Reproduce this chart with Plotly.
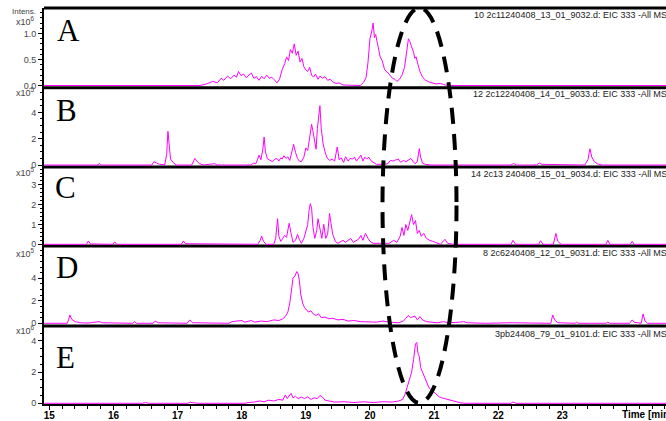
import plotly.graph_objects as go

# ---------------- data (retention time in min, intensity in panel scale units) ----------------
# Panel A: intensity x10^6
A_time = [14.92, 17.35, 17.45, 17.55, 17.62, 17.68, 17.72, 17.78, 17.83, 17.88, 17.92, 17.95, 17.99,
          18.03, 18.07, 18.11, 18.15, 18.19, 18.23, 18.27, 18.31, 18.35, 18.39, 18.43, 18.47, 18.51,
          18.55, 18.59, 18.63, 18.67, 18.70, 18.73, 18.76, 18.79, 18.82, 18.85, 18.88, 18.91, 18.94,
          18.97, 19.00, 19.03, 19.06, 19.09, 19.12, 19.15, 19.19, 19.22, 19.26, 19.30, 19.34, 19.38,
          19.42, 19.47, 19.52, 19.58, 19.85, 19.90, 19.94, 19.97, 20.00, 20.03, 20.05, 20.07, 20.09,
          20.11, 20.13, 20.16, 20.19, 20.23, 20.27, 20.31, 20.35, 20.39, 20.42, 20.46, 20.50, 20.54,
          20.57, 20.60, 20.62, 20.65, 20.68, 20.70, 20.72, 20.75, 20.78, 20.82, 20.87, 20.92, 20.97,
          21.03, 21.10, 21.16, 21.20, 24.62]
A_int = [0, 0, 0.03, 0.08, 0.05, 0.14, 0.10, 0.18, 0.13, 0.20, 0.16, 0.27, 0.19,
         0.22, 0.15, 0.19, 0.24, 0.14, 0.17, 0.10, 0.18, 0.13, 0.20, 0.14, 0.16, 0.11,
         0.05, 0.12, 0.30, 0.42, 0.55, 0.48, 0.69, 0.62, 0.80, 0.58, 0.66, 0.45, 0.52,
         0.36, 0.30, 0.27, 0.35, 0.20, 0.16, 0.22, 0.12, 0.18, 0.14, 0.17, 0.10, 0.12,
         0.07, 0.04, 0.05, 0.01, 0, 0.06, 0.15, 0.45, 0.90, 1.05, 1.20, 0.92, 0.98,
         0.85, 0.72, 0.55, 0.48, 0.30, 0.26, 0.20, 0.14, 0.12, 0.08, 0.12, 0.20, 0.35,
         0.58, 0.90, 0.85, 0.76, 0.64, 0.52, 0.55, 0.40, 0.27, 0.16, 0.10, 0.07, 0.05,
         0.03, 0.04, 0.01, 0, 0]

# Panel B: intensity x10^5
B_time = [14.92, 15.76, 15.78, 15.80, 16.60, 16.63, 16.67, 16.72, 16.80, 16.83, 16.85, 16.87, 16.89,
          16.93, 16.98, 17.22, 17.25, 17.27, 17.30, 17.34, 17.40, 17.55, 17.58, 17.62, 18.15, 18.18,
          18.22, 18.25, 18.27, 18.30, 18.33, 18.35, 18.37, 18.40, 18.44, 18.48, 18.52, 18.55, 18.58,
          18.61, 18.63, 18.66, 18.69, 18.72, 18.75, 18.78, 18.81, 18.84, 18.87, 18.90, 18.93, 18.97,
          19.00, 19.03, 19.06, 19.09, 19.11, 19.13, 19.16, 19.18, 19.20, 19.22, 19.24, 19.27, 19.30,
          19.33, 19.37, 19.41, 19.45, 19.49, 19.52, 19.55, 19.59, 19.62, 19.66, 19.69, 19.73, 19.76,
          19.79, 19.82, 19.86, 19.89, 19.92, 19.95, 19.98, 20.02, 20.06, 20.10, 20.20, 20.28, 20.32,
          20.36, 20.40, 20.44, 20.48, 20.52, 20.56, 20.60, 20.64, 20.68, 20.71, 20.74, 20.77, 20.79,
          20.82, 20.86, 20.95, 22.20, 22.24, 22.28, 22.60, 22.64, 22.68, 23.35, 23.40, 23.43, 23.46,
          23.50, 23.55, 23.62, 24.62]
B_int = [0, 0, 0.12, 0, 0, 0.25, 0.15, 0.05, 0.02, 0.8, 2.56, 1.2, 0.45,
         0.2, 0, 0, 0.35, 0.5, 0.3, 0.1, 0, 0.05, 0.1, 0, 0, 0.15,
         0.1, 0.45, 0.75, 0.4, 1.2, 2.13, 1.0, 0.48, 0.35, 0.25, 0.45, 0.5, 0.3,
         0.55, 0.45, 0.7, 0.5, 0.62, 0.35, 0.9, 1.57, 0.95, 0.5, 0.3, 0.25, 0.6,
         1.3, 1.1, 2.2, 3.09, 2.6, 1.9, 1.2, 2.76, 3.6, 4.51, 2.8, 1.6, 1.0,
         0.55, 0.35, 0.45, 0.3, 1.37, 0.4, 0.55, 0.2, 0.63, 0.3, 0.5, 0.45, 0.6,
         0.3, 0.5, 0.75, 0.3, 0.6, 0.45, 0.6, 0.3, 0.15, 0.05, 0.05, 0.1, 0.35,
         0.3, 0.38, 0.45, 0.2, 0.35, 0.25, 0.35, 0.5, 0.2, 0.1, 0.3, 1.24, 0.6,
         0.15, 0.05, 0, 0, 0.12, 0, 0, 0.15, 0.05, 0, 0.4, 1.24, 0.6,
         0.25, 0.08, 0, 0]

# Panel C: intensity x10^5
C_time = [14.92, 15.58, 15.61, 15.64, 15.99, 16.02, 16.05, 17.06, 17.09, 17.12, 18.25, 18.29, 18.31,
          18.34, 18.38, 18.50, 18.53, 18.56, 18.58, 18.61, 18.64, 18.67, 18.70, 18.74, 18.77, 18.80,
          18.84, 18.87, 18.90, 18.93, 18.97, 19.00, 19.03, 19.05, 19.07, 19.09, 19.11, 19.14, 19.17,
          19.19, 19.22, 19.25, 19.28, 19.31, 19.34, 19.37, 19.39, 19.42, 19.46, 19.50, 19.58, 19.62,
          19.70, 19.74, 19.82, 19.86, 19.89, 19.93, 19.97, 20.00, 20.05, 20.30, 20.37, 20.42, 20.47,
          20.50, 20.53, 20.56, 20.59, 20.62, 20.65, 20.68, 20.71, 20.74, 20.77, 20.80, 20.84, 20.88,
          20.93, 20.98, 21.05, 21.10, 21.17, 21.21, 21.30, 22.20, 22.23, 22.27, 22.63, 22.66, 22.70,
          22.86, 22.90, 22.93, 22.98, 23.68, 23.71, 23.74, 24.06, 24.09, 24.12, 24.62]
C_int = [0, 0, 0.17, 0.02, 0, 0.12, 0, 0, 0.17, 0.03, 0, 0.2, 0.42,
         0.15, 0, 0, 0.3, 1.29, 0.4, 0.15, 0.3, 0.45, 0.35, 1.06, 0.55, 0.1,
         0.2, 0.5, 0.25, 0.05, 0.3, 0.67, 1.0, 1.7, 2.05, 1.85, 0.9, 0.3, 0.7,
         1.29, 0.8, 0.3, 1.01, 0.3, 0.5, 1.56, 1.1, 0.5, 0.15, 0.05, 0.2, 0.1,
         0.3, 0.1, 0.25, 0.45, 0.2, 0.55, 0.3, 0.15, 0.05, 0.05, 0.2, 0.1, 0.4,
         0.85, 0.45, 1.0, 0.7, 1.1, 1.5, 1.0, 1.2, 0.55, 0.7, 0.4, 0.55, 0.3,
         0.2, 0.15, 0.05, 0, 0.25, 0.05, 0, 0, 0.2, 0, 0, 0.18, 0,
         0, 0.55, 0.15, 0, 0, 0.2, 0, 0, 0.15, 0, 0]

# Panel D: intensity x10^5
D_time = [14.92, 15.28, 15.30, 15.32, 15.35, 15.40, 15.48, 15.60, 15.78, 15.83, 16.30, 16.33, 16.36,
          16.62, 16.65, 16.70, 17.15, 17.19, 17.23, 17.80, 17.85, 18.00, 18.05, 18.15, 18.20, 18.30,
          18.40, 18.50, 18.58, 18.64, 18.68, 18.72, 18.75, 18.78, 18.80, 18.83, 18.86, 18.88, 18.90,
          18.92, 18.95, 18.98, 19.01, 19.04, 19.08, 19.12, 19.16, 19.20, 19.24, 19.30, 19.36, 19.42,
          19.50, 19.58, 19.66, 19.75, 19.85, 19.95, 20.10, 20.20, 20.30, 20.45, 20.52, 20.56, 20.60,
          20.63, 20.67, 20.70, 20.74, 20.78, 20.82, 20.88, 20.95, 21.05, 21.15, 21.22, 21.40, 21.46,
          21.52, 21.80, 22.20, 22.82, 22.85, 22.88, 22.93, 23.20, 23.22, 23.25, 23.68, 23.71, 23.74,
          24.05, 24.09, 24.12, 24.23, 24.26, 24.29, 24.33, 24.62]
D_int = [0, 0, 0.3, 0.74, 0.35, 0.15, 0.05, 0.02, 0.15, 0.05, 0, 0.15, 0,
         0, 0.2, 0.05, 0, 0.3, 0.05, 0, 0.15, 0.25, 0.1, 0.25, 0.1, 0.2,
         0.15, 0.3, 0.25, 0.4, 0.6, 1.0, 1.8, 3.0, 4.0, 4.2, 4.6, 4.4, 3.8,
         2.6, 1.8, 1.4, 1.2, 1.0, 1.1, 0.8, 0.7, 0.85, 0.5, 0.55, 0.4, 0.45,
         0.3, 0.35, 0.2, 0.25, 0.15, 0.15, 0.1, 0.2, 0.1, 0.05, 0.2, 0.45, 0.7,
         0.5, 0.55, 0.65, 0.3, 0.6, 0.3, 0.15, 0.1, 0.05, 0.15, 0.05, 0.1, 0.15,
         0.05, 0, 0.05, 0, 0.74, 0.3, 0.05, 0, 0.1, 0, 0, 0.1, 0,
         0, 0.3, 0.1, 0, 0.83, 0.2, 0, 0]

# Panel E: intensity x10^6
E_time = [14.92, 16.45, 16.50, 16.55, 17.15, 17.20, 17.26, 17.32, 18.05, 18.10, 18.20, 18.28, 18.35,
          18.42, 18.50, 18.58, 18.64, 18.68, 18.71, 18.74, 18.77, 18.80, 18.84, 18.88, 18.93, 18.98,
          19.03, 19.08, 19.13, 19.18, 19.22, 19.26, 19.30, 19.36, 19.45, 19.60, 19.75, 19.90, 20.05,
          20.20, 20.35, 20.45, 20.51, 20.55, 20.59, 20.62, 20.65, 20.68, 20.71, 20.73, 20.75, 20.77,
          20.79, 20.82, 20.85, 20.89, 20.92, 20.96, 21.00, 21.04, 21.08, 21.12, 21.16, 21.22, 21.28,
          21.34, 21.42, 21.50, 22.20, 22.23, 22.28, 24.62]
E_int = [0, 0, 0.05, 0, 0, 0.06, 0.03, 0, 0, 0.05, 0.08, 0.15, 0.1,
         0.2, 0.15, 0.25, 0.2, 0.53, 0.3, 0.45, 0.64, 0.35, 0.45, 0.3, 0.4, 0.3,
         0.42, 0.25, 0.35, 0.3, 0.5, 0.4, 0.2, 0.15, 0.08, 0.1, 0.05, 0.1, 0.05,
         0.1, 0.08, 0.15, 0.25, 0.6, 1.1, 1.6, 2.0, 2.8, 3.8, 3.9, 3.2, 3.0,
         2.3, 2.0, 1.7, 1.2, 1.0, 0.85, 0.7, 0.55, 0.42, 0.35, 0.3, 0.25, 0.15,
         0.1, 0.02, 0, 0, 0.08, 0, 0]

panel_letters = ["A", "B", "C", "D", "E"]
sample_names = [
    "10 2c11240408_13_01_9032.d: EIC 333 -All MS",
    "12 2c12240408_14_01_9033.d: EIC 333 -All MS",
    "14 2c13 240408_15_01_9034.d: EIC 333 -All MS",
    "8 2c6240408_12_01_9031.d: EIC 333 -All MS",
    "3pb24408_79_01_9101.d: EIC 333 -All MS",
]
exponents = [6, 5, 5, 5, 6]
ytick_vals = [[0, 0.5, 1.0], [0, 2, 4], [0, 1, 2, 3], [0, 2, 4], [0, 2, 4]]
ytick_text = [["0.0", "0.5", "1.0"], ["0", "2", "4"], ["0", "1", "2", "3"], ["0", "2", "4"], ["0", "2", "4"]]
x_ticks = [15, 16, 17, 18, 19, 20, 21, 22, 23, 24]
x_ticktext = ["15", "16", "17", "18", "19", "20", "21", "22", "23", " "]

# ---------------- layout geometry ----------------
W, H = 666, 421
ML, MT, MB = 44, 8, 17
PW, PH = W - ML, H - MT - MB
PLOT_BOTTOM = H - MB


def px_x(px):
    return (px - ML) / PW


def px_y(py):
    return (PLOT_BOTTOM - py) / PH


bounds = [8, 87.7, 167, 246, 326, 404]   # pixel rows of panel borders
y_ranges = [[-0.042, 1.49], [-0.152, 5.878], [-0.086, 3.904], [-0.24, 6.87], [-0.045, 4.955]]
minor_dt = [0.1, 0.5, 0.2, 0.5, 0.5]
letter_cy = [30, 110.5, 187.5, 267, 357]
letter_cx = [68.5, 66.5, 65, 67, 65]
name_cy = [14.5, 94, 174, 253, 333.5]
exp_cy = [21, 92, 172, 252.7, 330]

times = [A_time, B_time, C_time, D_time, E_time]
ints = [A_int, B_int, C_int, D_int, E_int]

fig = go.Figure()
yaxes = ["y", "y2", "y3", "y4", "y5"]
for i in range(5):
    fig.add_trace(go.Scatter(x=times[i], y=ints[i], mode="lines",
                             line=dict(color="#ff00ff", width=1),
                             xaxis="x", yaxis=yaxes[i], showlegend=False, hoverinfo="skip"))

FONT = "Liberation Sans, Arial, sans-serif"
layout = dict(
    width=W, height=H,
    margin=dict(l=ML, r=0, t=MT, b=MB, autoexpand=False),
    paper_bgcolor="white", plot_bgcolor="rgba(0,0,0,0)",
    showlegend=False,
    xaxis=dict(domain=[0, 1], range=[14.917, 24.617], anchor="y5",
               showline=True, linewidth=2, linecolor="black", layer="below traces",
               ticks="outside", ticklen=4, tickwidth=1, tickcolor="black",
               tickmode="array", tickvals=x_ticks, ticktext=x_ticktext,
               ticklabelstandoff=-3,
               tickfont=dict(family=FONT, size=10, color="black", weight="bold"),
               minor=dict(tickmode="linear", tick0=0, dtick=0.2, ticklen=3, ticks="outside",
                          tickcolor="black", showgrid=False),
               showgrid=False, zeroline=False),
)
for i in range(5):
    key = "yaxis" if i == 0 else "yaxis%d" % (i + 1)
    layout[key] = dict(
        domain=[px_y(bounds[i + 1]), px_y(bounds[i])], range=y_ranges[i], anchor="x",
        showline=True, linewidth=2, linecolor="black",
        ticks="outside", ticklen=4, tickwidth=1, tickcolor="black",
        tickmode="array", tickvals=ytick_vals[i], ticktext=ytick_text[i],
        tickfont=dict(family=FONT, size=9, color="#444"),
        minor=dict(tickmode="linear", tick0=0, dtick=minor_dt[i], ticklen=2, ticks="outside",
                   tickcolor="black", showgrid=False),
        showgrid=False, zeroline=False,
    )
fig.update_layout(**layout)

shapes = []
for b in bounds[:5]:
    shapes.append(dict(type="line", xref="paper", yref="paper", x0=0, x1=1,
                       y0=px_y(b), y1=px_y(b), line=dict(color="black", width=3), layer="below"))
# dashed ellipse around region of interest
shapes.append(dict(type="circle", xref="x", yref="paper", x0=20.196, x1=21.35,
                   y0=px_y(403), y1=px_y(8), line=dict(color="black", width=4, dash="16px,10px"),
                   layer="above"))
fig.update_layout(shapes=shapes)

ann = []
for i in range(5):
    ann.append(dict(xref="paper", yref="paper", x=px_x(letter_cx[i]), y=px_y(letter_cy[i]),
                    text=panel_letters[i], showarrow=False, xanchor="center", yanchor="middle",
                    font=dict(family="Liberation Serif, Times New Roman, serif", size=31, color="black")))
    ann.append(dict(xref="paper", yref="paper", x=px_x(669), y=px_y(name_cy[i]),
                    text=sample_names[i], showarrow=False, xanchor="right", yanchor="middle",
                    font=dict(family=FONT, size=9, color="#222")))
    ann.append(dict(xref="paper", yref="paper", x=px_x(37), y=px_y(exp_cy[i]),
                    text="x10<sup>%d</sup>" % exponents[i], showarrow=False, xanchor="right",
                    yanchor="middle", font=dict(family=FONT, size=9, color="#444")))
ann.append(dict(xref="paper", yref="paper", x=px_x(37.5), y=px_y(11.5), text="Intens.",
                showarrow=False, xanchor="right", yanchor="middle",
                font=dict(family=FONT, size=8, color="#444")))
ann.append(dict(xref="paper", yref="paper", x=px_x(620), y=px_y(414), text="Time [min]",
                showarrow=False, xanchor="left", yanchor="middle",
                font=dict(family=FONT, size=10, color="black", weight="bold")))
fig.update_layout(annotations=ann)

# remove the browser's default 8px page margin so the figure sits at the window origin
fig.write_html("out.html", config={"displayModeBar": False},
               post_script="document.body.style.margin='0px';")
